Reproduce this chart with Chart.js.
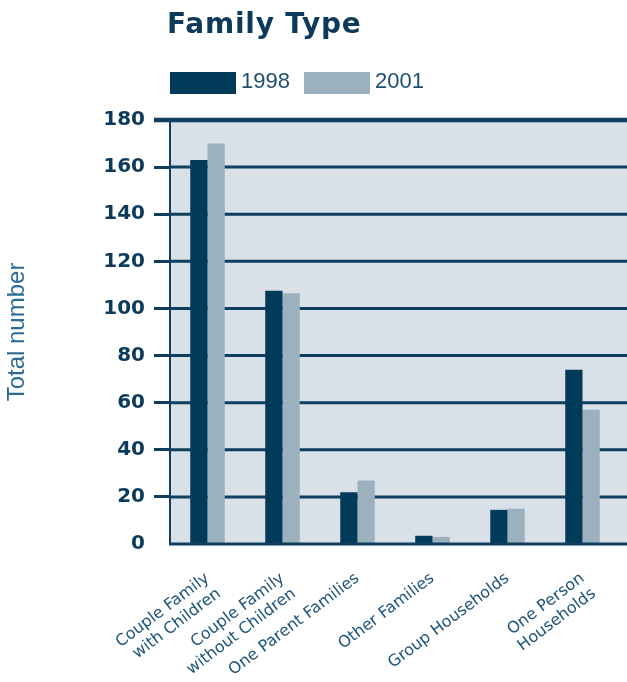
<!DOCTYPE html>
<html>
<head>
<meta charset="utf-8">
<title>Family Type</title>
<script src="https://cdn.jsdelivr.net/npm/chart.js@4.4.1/dist/chart.umd.min.js"></script>
<style>
  html, body { margin: 0; padding: 0; background: #fff; }
  .wrap { position: relative; width: 627px; height: 682px; overflow: hidden; }
  #chart { position: absolute; left: 0; top: 0; }
  .title { position: absolute; left: 167px; top: 10px; margin: 0; letter-spacing: 0.8px;
           font: bold 28px/28px "DejaVu Sans", sans-serif; color: #0c3a5a; }
  .legend { position: absolute; left: 170px; top: 72px; height: 22px; display: flex; }
  .legend .item { display: flex; align-items: flex-start; margin-right: 14px; }
  .legend .box { width: 66px; height: 22px; }
  .legend .txt { margin-left: 5px; position: relative; top: -2px;
                 font: 22px/22px "Liberation Sans", Arial, sans-serif; color: #1e4f70; }
</style>
</head>
<body>
<div class="wrap">
  <canvas id="chart" width="627" height="682"></canvas>
  <h1 class="title">Family Type</h1>
  <div class="legend" id="legend"></div>
</div>
<script>
// Family Type chart - 1998 vs 2001
const categories = [
  ['Couple Family', 'with Children'],
  ['Couple Family', 'without Children'],
  'One Parent Families',
  'Other Families',
  'Group Households',
  ['One Person', 'Households']
];
const years = ['1998', '2001'];
const values1998 = [163, 107.5, 22, 3.5, 14.5, 74];
const values2001 = [170, 106.5, 27, 3, 15, 57];
const yTicks = [0, 20, 40, 60, 80, 100, 120, 140, 160, 180];

const DARK = '#023a5a';
const LIGHT = '#9bb1bd';
const PLOT_BG = '#d9e0e7';
const GRID = '#0e3e60';
const TEXT = '#0c3a5a';

// plot background + gridlines run to the right edge of the page
const plotDecor = {
  id: 'plotDecor',
  beforeDraw(chart){
    const {ctx, chartArea: a} = chart;
    ctx.save();
    ctx.fillStyle = PLOT_BG;
    ctx.fillRect(a.left, a.top, chart.width - a.left, a.bottom - a.top);
    ctx.restore();
  },
  beforeDatasetsDraw(chart){
    const {ctx, chartArea: a, scales: {y}} = chart;
    ctx.save();
    ctx.strokeStyle = GRID;
    y.ticks.forEach(t => {
      if (t.value === y.min) return;
      const py = y.getPixelForValue(t.value);
      const top = t.value === y.max;
      ctx.lineWidth = top ? 4.5 : 3;
      ctx.beginPath();
      ctx.moveTo(top ? a.left - 16 : a.left, py);
      ctx.lineTo(chart.width, py);
      ctx.stroke();
    });
    ctx.restore();
  },
  afterDatasetsDraw(chart){
    const {ctx, chartArea: a, scales: {y}} = chart;
    const py = y.getPixelForValue(y.min);
    ctx.save();
    ctx.strokeStyle = GRID;
    ctx.lineWidth = 3;
    ctx.beginPath();
    ctx.moveTo(a.left - 1, py);
    ctx.lineTo(chart.width, py);
    ctx.stroke();
    ctx.restore();
  }
};

const chart = new Chart(document.getElementById('chart'), {
  type: 'bar',
  data: {
    labels: categories,
    datasets: [
      { label: years[0], data: values1998, backgroundColor: DARK },
      { label: years[1], data: values2001, backgroundColor: LIGHT }
    ]
  },
  options: {
    responsive: false,
    animation: false,
    categoryPercentage: 0.46,
    barPercentage: 1.0,
    layout: { padding: { top: 120, right: 7, left: 0, bottom: 0 } },
    plugins: {
      legend: { display: false },
      tooltip: { enabled: false }
    },
    scales: {
      x: {
        grid: { display: false, drawTicks: false },
        border: { display: false },
        ticks: {
          color: '#1d5479',
          font: { family: 'DejaVu Sans', size: 16 },
          minRotation: 37, maxRotation: 37,
          autoSkip: false,
          padding: 25
        },
        afterFit: (s) => { s.height = 138; s.paddingLeft = 0; s.paddingRight = 0; }
      },
      y: {
        min: yTicks[0],
        max: yTicks[yTicks.length - 1],
        grid: {
          color: 'transparent',
          tickColor: (c) => c.tick && c.tick.value === 0 ? 'transparent' : GRID,
          tickLength: 16,
          tickWidth: 3
        },
        border: { display: true, color: GRID, width: 2 },
        ticks: {
          stepSize: yTicks[1] - yTicks[0],
          color: TEXT,
          padding: 9,
          font: { family: 'DejaVu Sans', size: 20, weight: 'bold' }
        },
        title: {
          display: true,
          text: 'Total number',
          color: '#2d6b92',
          font: { family: 'Liberation Sans', size: 24 },
          padding: { top: 3, bottom: 0 }
        },
        afterFit: (s) => { s.width = 170; }
      }
    }
  },
  plugins: [plotDecor]
});

// legend built from the datasets
const legendEl = document.getElementById('legend');
chart.data.datasets.forEach(ds => {
  const item = document.createElement('div');
  item.className = 'item';
  const box = document.createElement('div');
  box.className = 'box';
  box.style.background = ds.backgroundColor;
  const txt = document.createElement('span');
  txt.className = 'txt';
  txt.textContent = ds.label;
  item.appendChild(box);
  item.appendChild(txt);
  legendEl.appendChild(item);
});
</script>
</body>
</html>
